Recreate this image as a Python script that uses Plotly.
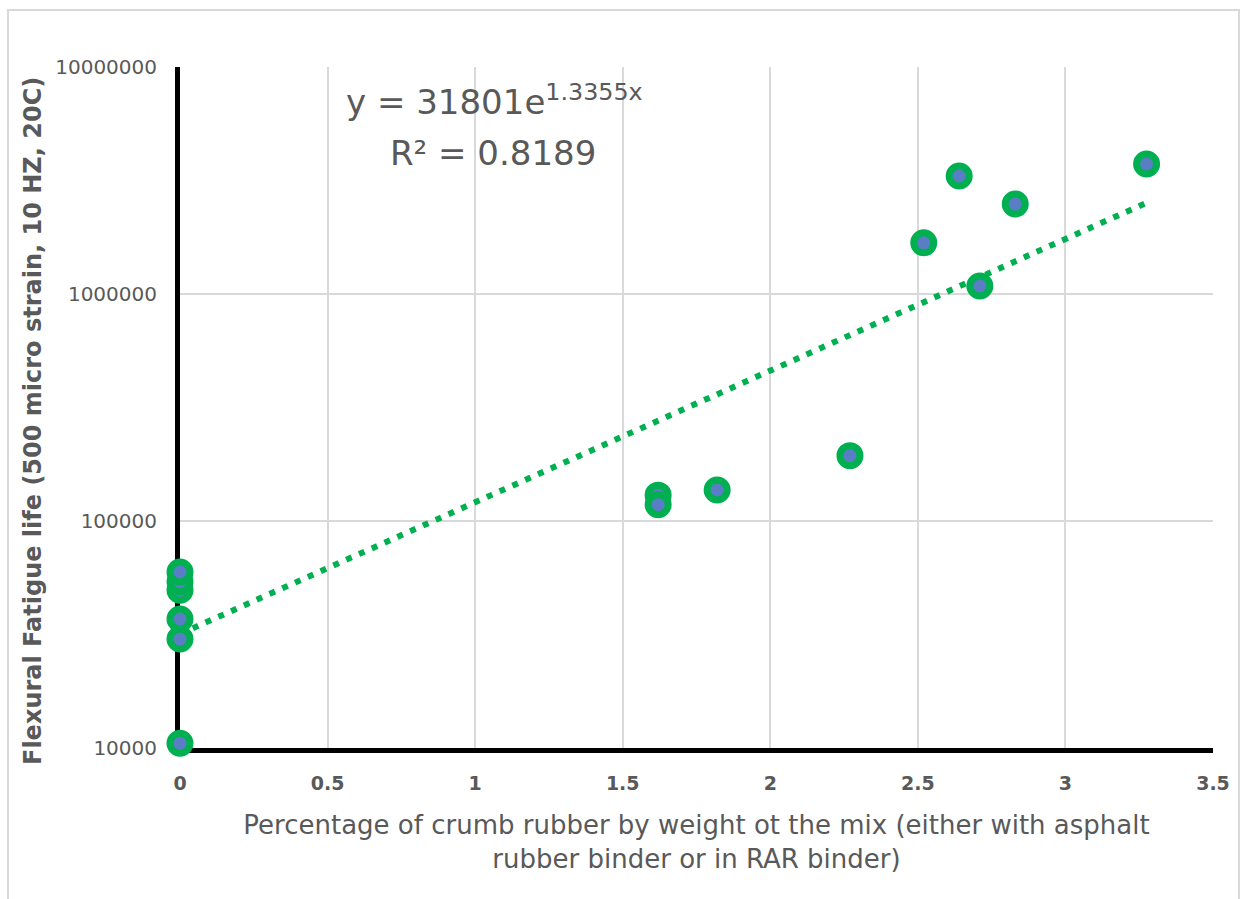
import numpy as np
import plotly.graph_objects as go

# Data
crumb_pct = [0, 0, 0, 0, 0, 0, 1.62, 1.62, 1.82, 2.27, 2.52, 2.64, 2.71, 2.83, 3.275]
fatigue_life = [10500, 30200, 37000, 49500, 54000, 59600, 130000, 118000, 137000,
                194000, 1680000, 3310000, 1085000, 2490000, 3740000]

trend_a = 31801
trend_b = 1.3355
r2 = 0.8189

y_tick_vals = [10000, 100000, 1000000, 10000000]
y_tick_text = ["10000", "100000", "1000000", "10000000"]
x_tick_vals = [0, 0.5, 1, 1.5, 2, 2.5, 3, 3.5]
x_tick_text = ["0", "0.5", "1", "1.5", "2", "2.5", "3", "3.5"]

x_title = "Percentage of crumb rubber by weight ot the mix (either with asphalt<br>rubber binder or in RAR binder)"
y_title = "Flexural Fatigue life (500 micro strain, 10 HZ, 20C)"

green = "#00B050"
blue = "#5A7EC6"
gray_text = "#595959"
font_family = "DejaVu Sans, sans-serif"

tx = np.linspace(0, max(crumb_pct), 200)
ty = trend_a * np.exp(trend_b * tx)

fig = go.Figure()
fig.add_trace(go.Scatter(
    x=tx, y=ty, mode="lines",
    line=dict(color=green, width=6, dash="6px,8px"),
    hoverinfo="skip", showlegend=False, cliponaxis=False,
))
fig.add_trace(go.Scatter(
    x=crumb_pct, y=fatigue_life, mode="markers",
    marker=dict(size=20, color=blue, line=dict(color=green, width=7)),
    showlegend=False, cliponaxis=False,
))

L, R, T, B = 180, 30, 67, 151
W, H = 1243, 899
pw, ph = W - L - R, H - T - B

def px(x):
    return (x - L) / pw

def py(y):
    return (H - B - y) / ph

fig.add_annotation(
    x=px(494), y=py(100), xref="paper", yref="paper", showarrow=False,
    xanchor="center", yanchor="middle",
    text=f"y = {trend_a}e<sup>{trend_b}x</sup>",
    font=dict(family=font_family, size=34, color=gray_text),
)
fig.add_annotation(
    x=px(493), y=py(153), xref="paper", yref="paper", showarrow=False,
    xanchor="center", yanchor="middle",
    text=f"R² = {r2}",
    font=dict(family=font_family, size=34, color=gray_text),
)
fig.add_annotation(
    x=px(33), y=py(421), xref="paper", yref="paper", showarrow=False,
    xanchor="center", yanchor="middle", textangle=-90,
    text=f"<b>{y_title}</b>",
    font=dict(family=font_family, size=24, color=gray_text),
)

# outer chart border
fig.add_shape(type="rect", xref="paper", yref="paper",
              x0=px(8), x1=px(1239), y0=py(10), y1=py(905),
              line=dict(color="#D9D9D9", width=2), layer="below")

fig.update_layout(
    width=W, height=H,
    margin=dict(l=L, r=R, t=T, b=B),
    paper_bgcolor="white", plot_bgcolor="white",
    font=dict(family=font_family, color=gray_text),
    xaxis=dict(
        range=[0, 3.5], tickvals=x_tick_vals, ticktext=x_tick_text,
        tickfont=dict(size=19, color=gray_text, weight="bold"),
        showgrid=True, gridcolor="#D9D9D9", gridwidth=2,
        showline=True, linecolor="black", linewidth=5, layer="below traces",
        zeroline=False, ticks="", ticklabelstandoff=14,
        title=dict(text=x_title, font=dict(size=26, color=gray_text), standoff=25),
    ),
    yaxis=dict(
        type="log", range=[4, 7], tickvals=y_tick_vals, ticktext=y_tick_text,
        tickfont=dict(size=20, color=gray_text),
        showgrid=True, gridcolor="#D9D9D9", gridwidth=2,
        showline=True, linecolor="black", linewidth=5, layer="below traces",
        zeroline=False, ticks="", ticklabelstandoff=14,
    ),
)

fig.write_html("out.html")
